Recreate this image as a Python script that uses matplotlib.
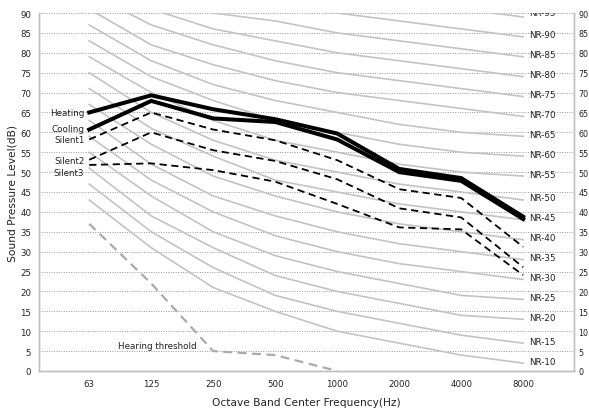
import numpy as np
import matplotlib.pyplot as plt

freqs = ['63', '125', '250', '500', '1000', '2000', '4000', '8000']

# NR curves (dB at each octave band)
nr_levels = [10, 15, 20, 25, 30, 35, 40, 45, 50, 55, 60, 65, 70, 75, 80, 85, 90, 95]
nr_curves = [
    [43, 31, 21, 15, 10, 7, 4, 2],
    [47, 35, 26, 19, 15, 12, 9, 7],
    [51, 39, 31, 24, 20, 17, 14, 13],
    [55, 44, 35, 29, 25, 22, 19, 18],
    [59, 48, 40, 34, 30, 27, 25, 23],
    [63, 52, 44, 39, 35, 32, 30, 28],
    [67, 57, 49, 44, 40, 37, 35, 33],
    [71, 61, 54, 48, 45, 42, 40, 38],
    [75, 65, 58, 53, 50, 47, 45, 43],
    [79, 70, 63, 58, 55, 52, 50, 49],
    [83, 74, 68, 63, 60, 57, 55, 54],
    [87, 78, 72, 68, 65, 62, 60, 59],
    [91, 82, 77, 73, 70, 68, 66, 64],
    [95, 87, 82, 78, 75, 73, 71, 69],
    [99, 91, 86, 83, 80, 78, 76, 74],
    [103, 95, 90, 88, 85, 83, 81, 79],
    [107, 99, 95, 93, 90, 88, 86, 84],
    [111, 104, 100, 98, 95, 93, 91, 89],
]

hearing = [37, 22, 5, 4, 0]

heating = [65, 69.3, 65.8, 63.3, 59.7, 50.8, 48.5, 38.8]
cooling = [60.7, 67.9, 63.5, 62.6, 58.2, 50.0, 47.8, 38.2]
silent1 = [58.2, 65.0, 60.7, 58.0, 53.0, 45.7, 43.5, 31.2]
silent2 = [53.1, 60.0, 55.5, 52.8, 48.2, 40.9, 38.6, 26.1]
silent3 = [51.8, 52.2, 50.5, 47.6, 42.0, 36.1, 35.6, 24.1]

x = np.arange(len(freqs))

fig = plt.figure(figsize=(5.89, 4.10), dpi=100)
ax = fig.add_axes([39/589, 1-372/410, (574-39)/589, (372-14)/410])

# grid
for v in range(5, 91, 5):
    ax.axhline(v, color='#999999', lw=0.7, ls=(0, (1, 1.5)), zorder=0)

# NR curves and labels
for lev, c in zip(nr_levels, nr_curves):
    ax.plot(x, c, color='#c3c3c3', lw=1.2, zorder=1)
    ly = c[-1] + (1.2 if lev == 95 else 0.5)
    ax.text(x[-1] + 0.09, ly, 'NR-%d' % lev, fontsize=6.3, color='#222222',
            va='center', ha='left', clip_on=True)

# hearing threshold
ax.plot(x[:len(hearing)], hearing, color='#aaaaaa', lw=1.6, ls=(0, (4, 2.5)), zorder=2)
ax.text(1.73, 6.3, 'Hearing threshold', fontsize=6.3, ha='right', va='center', color='#222222')

# measured spectra
ax.plot(x, heating, color='black', lw=2.9, zorder=5, solid_joinstyle='miter')
ax.plot(x, cooling, color='black', lw=2.9, zorder=5, solid_joinstyle='miter')
for s in [silent1, silent2, silent3]:
    ax.plot(x, s, color='black', lw=1.3, ls=(0, (4, 2.5)), zorder=4)

names = ['Heating', 'Cooling', 'Silent1', 'Silent2', 'Silent3']
label_y = [65, 61, 58.1, 53, 50]
for n, yy in zip(names, label_y):
    ax.text(-0.08, yy, n, fontsize=6.3, ha='right', va='center', color='#222222')

ax.set_xlim(-0.81, 7.82)
ax.set_ylim(0, 90)
ax.set_xticks(x)
ax.set_xticklabels(freqs)
ax.set_yticks(range(0, 91, 5))
ax.tick_params(axis='both', length=0, labelsize=6.2, colors='#222222')
ax.tick_params(axis='y', pad=5.5)
ax.tick_params(axis='x', pad=6)

ax2 = ax.twinx()
ax2.set_ylim(0, 90)
ax2.set_yticks(range(0, 91, 5))
ax2.tick_params(axis='y', length=0, labelsize=5.8, colors='#222222', pad=3)

for a in [ax, ax2]:
    a.spines['top'].set_visible(False)
    for s in ['left', 'right', 'bottom']:
        a.spines[s].set_color('#c0c0c0')
        a.spines[s].set_linewidth(1.0)

ax.set_xlabel('Octave Band Center Frequency(Hz)', fontsize=7.7, color='#222222', labelpad=6)
ax.set_ylabel('Sound Pressure Level(dB)', fontsize=7.7, color='#222222', labelpad=2)

fig.savefig('out.png', dpi=100)
